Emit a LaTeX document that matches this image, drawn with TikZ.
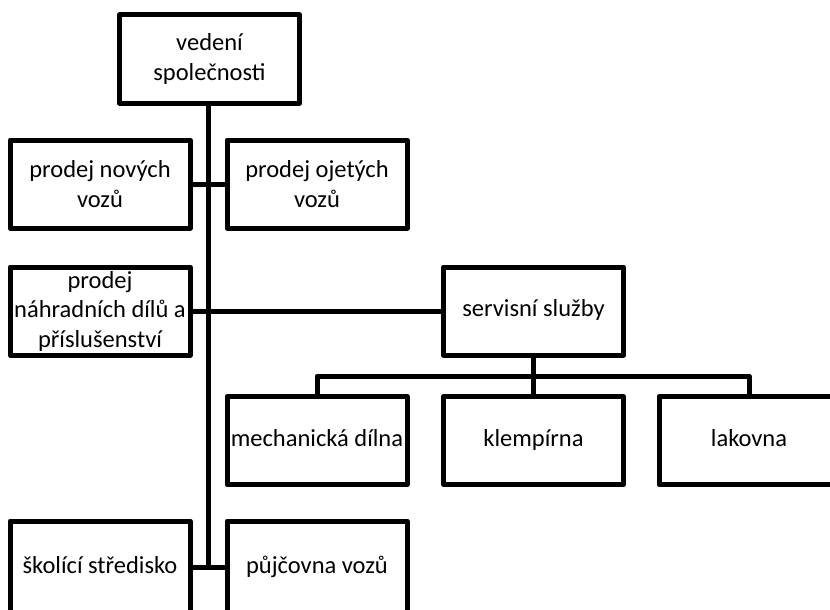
\documentclass[tikz,border=0pt]{standalone}
\usepackage{fontspec}
\setmainfont{Carlito}
\begin{document}
\begin{tikzpicture}[x=1pt,y=-1pt,
  unit/.style={draw, line width=5pt, line join=round, rectangle,
    minimum width=180pt, minimum height=88pt, inner sep=2pt,
    align=center, font=\fontsize{24.5}{29.5}\selectfont},
  single/.style={text height=17pt, text depth=6pt},
  link/.style={line width=5pt, line join=round}]
\useasboundingbox (0,0) rectangle (830,610);
\clip (0,0) rectangle (830,610);

% management at the top
\node[unit] (top) at (209.5,59) {vedení\\společnosti};

% sales departments
\node[unit] (nove)   at (100,184) {prodej nových\\vozů};
\node[unit] (ojete)  at (317,184) {prodej ojetých\\vozů};
\node[unit] (dily)   at (100,311) {prodej\\náhradních dílů a\\příslušenství};
\node[unit, single] (servis) at (533.5,311) {servisní služby};

% workshops under the service department
\node[unit, single] (mech)  at (317,440.5) {mechanická dílna};
\node[unit, single] (klemp) at (533.5,440.5) {klempírna};
\node[unit, single] (lak)   at (749,440.5) {lakovna};

% bottom row
\node[unit, single, minimum height=94pt] (skol) at (100,568) {školící středisko};
\node[unit, single, minimum height=94pt] (pujc) at (317,568) {půjčovna vozů};

% main trunk
\coordinate (tend) at (208,567);
\draw[link] (top.south -| tend) -- (tend);

% branches off the trunk
\draw[link] (nove.east) -- (ojete.west);
\draw[link] (dily.east) -- (servis.west);
\draw[link] (skol.east |- tend) -- (pujc.west |- tend);

% service tree
\coordinate (bus) at (533.5,376);
\draw[link] (servis.south) -- (bus);
\draw[link] (mech.north) -- (mech.north |- bus) -- (lak.north |- bus) -- (lak.north);
\draw[link] (bus) -- (klemp.north);
\end{tikzpicture}
\end{document}
